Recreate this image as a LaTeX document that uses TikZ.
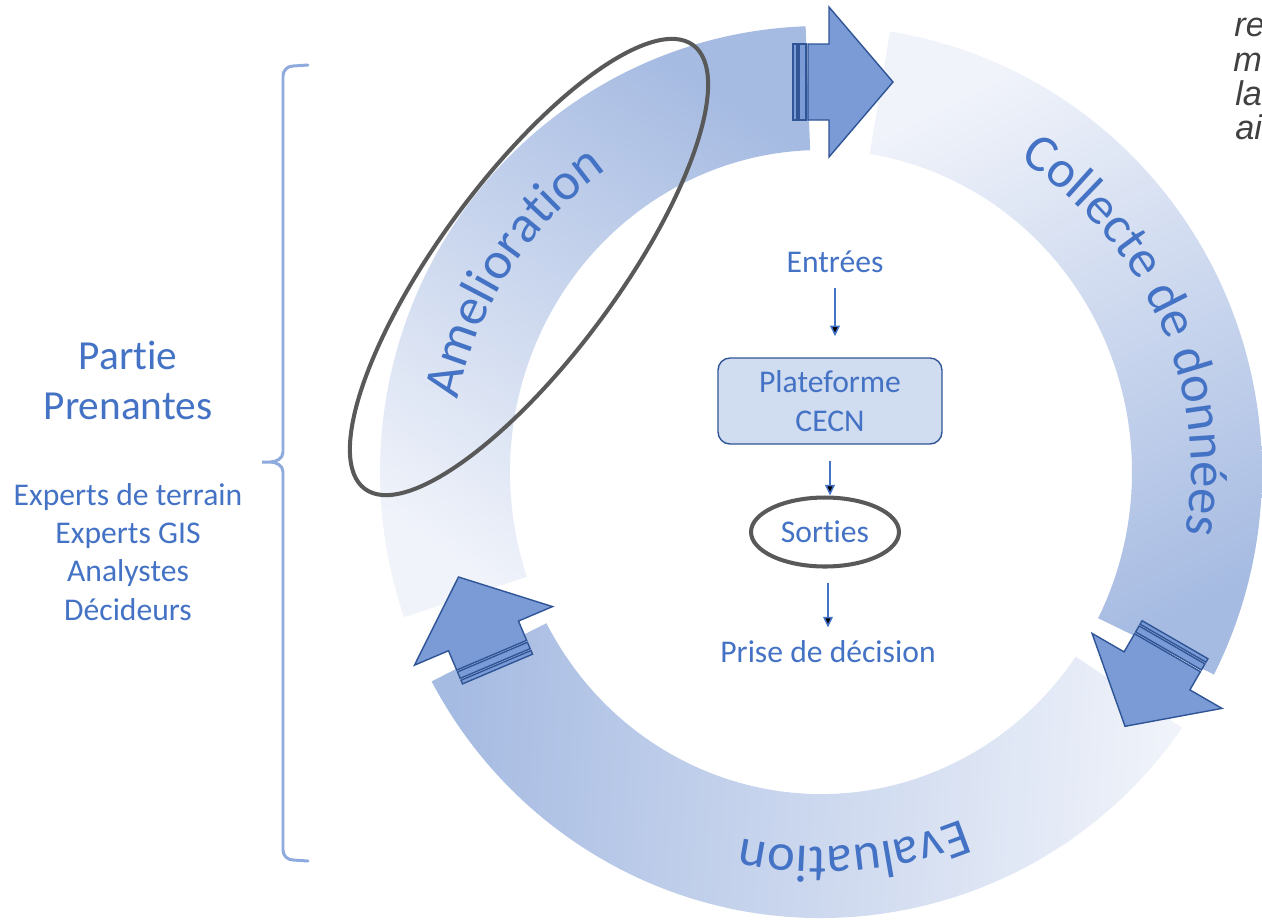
\documentclass[tikz,border=0pt]{standalone}
\usepackage{fontspec}
\setmainfont{Carlito}[Ligatures=NoCommon]
\newfontfamily\notefont{Liberation Sans}
\usetikzlibrary{positioning,calc,arrows.meta,shapes.geometric,decorations.text}

\definecolor{txtblue}{HTML}{4472C4}
\definecolor{bandlight}{HTML}{F0F3FA}
\definecolor{banddark}{HTML}{A6BBE2}
\definecolor{arrowfill}{HTML}{7A9BD5}
\definecolor{arrowline}{HTML}{2F5597}
\definecolor{bracecol}{HTML}{8FAADC}
\definecolor{boxfill}{HTML}{D0DCEF}
\definecolor{ringgray}{HTML}{595959}
\definecolor{notegray}{HTML}{404040}

\newcommand{\arcfont}{\fontsize{30}{36}\selectfont}

\tikzset{
  band/.style={top color=banddark, bottom color=bandlight},
  cyclearrow/.style={fill=arrowfill, draw=arrowline, line width=0.8pt, line join=miter},
  flow/.style={draw=txtblue, line width=0.85pt, -{Triangle[length=6pt,width=5.5pt]}},
  hilite/.style={draw=ringgray, line width=2.3pt},
  bracket/.style={draw=bracecol, line width=1.7pt, line cap=round},
  midtext/.style={text=txtblue, font=\fontsize{18}{22}\selectfont, inner sep=2pt},
  sidehead/.style={text=txtblue, font=\fontsize{23.5}{28.5}\selectfont, inner sep=0pt},
  sidetext/.style={text=txtblue, font=\fontsize{18}{22}\selectfont, inner sep=0pt},
  platbox/.style={midtext, draw=arrowline, fill=boxfill, line width=0.8pt, rounded corners=0.24cm,
    minimum width=4.48cm, minimum height=1.72cm, align=center},
  sortring/.style={midtext, ellipse, hilite, minimum width=2.96cm, minimum height=1.38cm},
  note/.style={text=notegray, font=\notefont\itshape\fontsize{19.5}{22}\selectfont, inner sep=0pt},
}

\begin{document}
\begin{tikzpicture}[x=0.02cm, y=0.02cm]
  \useasboundingbox (0,0) rectangle (1262,-921);
  \coordinate (C) at (821,-472);

  % the three bands of the cycle
  \shade[band, shading angle=-34] ($(C)+(199:441 and 446)$)
    arc[start angle=199, end angle=92, x radius=441, y radius=446]
    -- ($(C)+(92:311 and 322)$)
    arc[start angle=92, end angle=199, x radius=311, y radius=322] -- cycle;
  \shade[band, shading angle=-153] ($(C)+(81:441 and 446)$)
    arc[start angle=81, end angle=-27, x radius=441, y radius=446]
    -- ($(C)+(-27:311 and 322)$)
    arc[start angle=-27, end angle=81, x radius=311, y radius=322] -- cycle;
  \shade[band, shading angle=86] ($(C)+(-35:441 and 446)$)
    arc[start angle=-35, end angle=-152, x radius=441, y radius=446]
    -- ($(C)+(-152:311 and 322)$)
    arc[start angle=-152, end angle=-35, x radius=311, y radius=322] -- cycle;

  % striped arrows between the bands
  \begin{scope}[shift={(843,-82)}]
    \draw[cyclearrow] (-50,-38) rectangle (-46,38);
    \draw[cyclearrow] (-44,-38) rectangle (-37,38);
    \draw[cyclearrow] (-35,-38) -- (-14,-38) -- (-14,-75) -- (50,0) -- (-14,75) -- (-14,38) -- (-35,38) -- cycle;
  \end{scope}
  \begin{scope}[shift={(1150,-683)}, rotate=240]
    \draw[cyclearrow] (-50,-38) rectangle (-46,38);
    \draw[cyclearrow] (-44,-38) rectangle (-37,38);
    \draw[cyclearrow] (-35,-38) -- (-14,-38) -- (-14,-75) -- (50,0) -- (-14,75) -- (-14,38) -- (-35,38) -- cycle;
  \end{scope}
  \begin{scope}[shift={(478,-623)}, rotate=113]
    \draw[cyclearrow] (-50,-38) rectangle (-46,38);
    \draw[cyclearrow] (-44,-38) rectangle (-37,38);
    \draw[cyclearrow] (-35,-38) -- (-14,-38) -- (-14,-75) -- (50,0) -- (-14,75) -- (-14,38) -- (-35,38) -- cycle;
  \end{scope}

  % band titles
  \path[decorate, decoration={text along path, text align=center, text color=txtblue,
    text={|\arcfont|Amelioration}}] (C) ++(187:370) arc[start angle=187, end angle=107, radius=370];
  \path[decorate, decoration={text along path, text align=center, text color=txtblue,
    text={|\arcfont|Collecte de données}}] (C) ++(74:370) arc[start angle=74, end angle=-26, radius=370];
  \path[decorate, decoration={text along path, text align=center, text color=txtblue,
    text={|\arcfont|Evaluation}}] (C) ++(-50:375) arc[start angle=-50, end angle=-120, radius=375];

  \draw[hilite, rotate around={53.5:(529,-267)}] (529,-267) ellipse [x radius=276, y radius=89];

  % centre column
  \node[midtext, anchor=base] (entrees) at (835,-272) {Entrées};
  \node[platbox] (plat) at (830,-401) {Plateforme\\CECN};
  \node[sortring] (sorties) at (825,-532) {Sorties};
  \node[midtext, anchor=base] (prise) at (828,-662) {Prise de décision};

  \draw[flow, shorten <=7pt, shorten >=12pt] (entrees) -- (entrees |- plat.north);
  \draw[flow, shorten <=9pt] (plat) -- (plat |- sorties.north);
  \draw[flow, shorten <=8pt, shorten >=5pt] (sorties.south -| prise) -- (prise);

  % stakeholders
  \draw[bracket] (308,-65) -- (293,-66) to[out=180,in=90] (283,-76) -- (283,-452)
    to[out=-90,in=0] (270,-462) -- (262,-462) -- (270,-462) to[out=0,in=90] (283,-472)
    -- (283,-850) to[out=-90,in=180] (293,-860) -- (308,-861);

  \node[sidehead, anchor=base] (partie) at (128,-369) {Partie};
  \node[sidehead, below=1cm of partie.base, anchor=base] (prenantes) {Prenantes};
  \node[sidetext, anchor=base] (exp1) at (128,-505) {Experts de terrain};
  \node[sidetext, below=0.77cm of exp1.base, anchor=base] (exp2) {Experts GIS};
  \node[sidetext, below=0.77cm of exp2.base, anchor=base] (exp3) {Analystes};
  \node[sidetext, below=0.77cm of exp3.base, anchor=base] (exp4) {Décideurs};

  % cut-off note at the top right
  \node[note, anchor=base west] (note1) at (1234,-36) {re};
  \node[note, anchor=base west] (note2) at (1233,-71) {m};
  \node[note, anchor=base west] (note3) at (1235,-105) {la};
  \node[note, anchor=base west] (note4) at (1235,-139) {ai};
\end{tikzpicture}
\end{document}
